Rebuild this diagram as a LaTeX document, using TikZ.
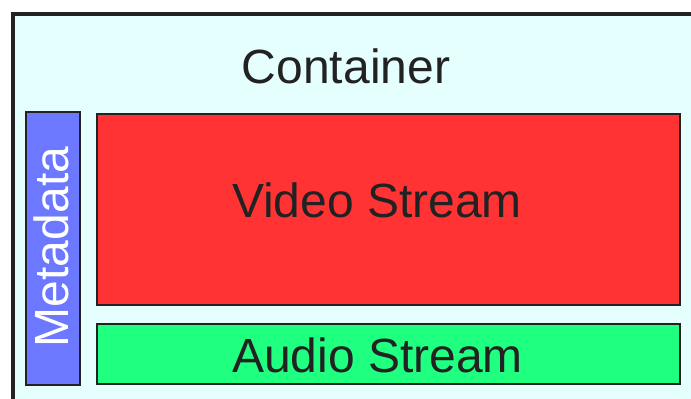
\documentclass[tikz,border=0pt]{standalone}
\usepackage{fontspec}
\setmainfont{Liberation Sans}
\definecolor{contfill}{HTML}{E5FFFF}
\definecolor{metafill}{HTML}{6B78FF}
\definecolor{videofill}{HTML}{FF3333}
\definecolor{audiofill}{HTML}{1FFF80}
\definecolor{edge}{HTML}{222222}
\begin{document}
\begin{tikzpicture}[x=1pt,y=-1pt,
  box/.style={draw=edge,line width=1.6pt,inner sep=0pt,rectangle},
  lbl/.style={font=\fontsize{48}{56}\selectfont,text=edge,inner sep=0pt,anchor=base}]
\useasboundingbox (0,0) rectangle (691,399);
\clip (0,0) rectangle (691,399);
\node[draw=edge,line width=4.5pt,fill=contfill,inner sep=0pt,minimum width=700pt,minimum height=400pt,anchor=north west] (container) at (10.5,11.7) {};
\node[lbl] (contlbl) at (346,83) {Container};
\node[box,fill=metafill,minimum width=54pt,minimum height=273pt] (meta) at (53,248.5) {};
\node[box,fill=videofill,minimum width=583pt,minimum height=191pt] (video) at (388.5,209.5) {};
\node[box,fill=audiofill,minimum width=583pt,minimum height=60pt] (audio) at (388.5,354) {};
\node[lbl] (videolbl) at (377,217) {Video Stream};
\node[lbl] (audiolbl) at (377.5,372) {Audio Stream};
\node[lbl,text=white,rotate=90] (metalbl) at (68,247) {Metadata};
\end{tikzpicture}
\end{document}
